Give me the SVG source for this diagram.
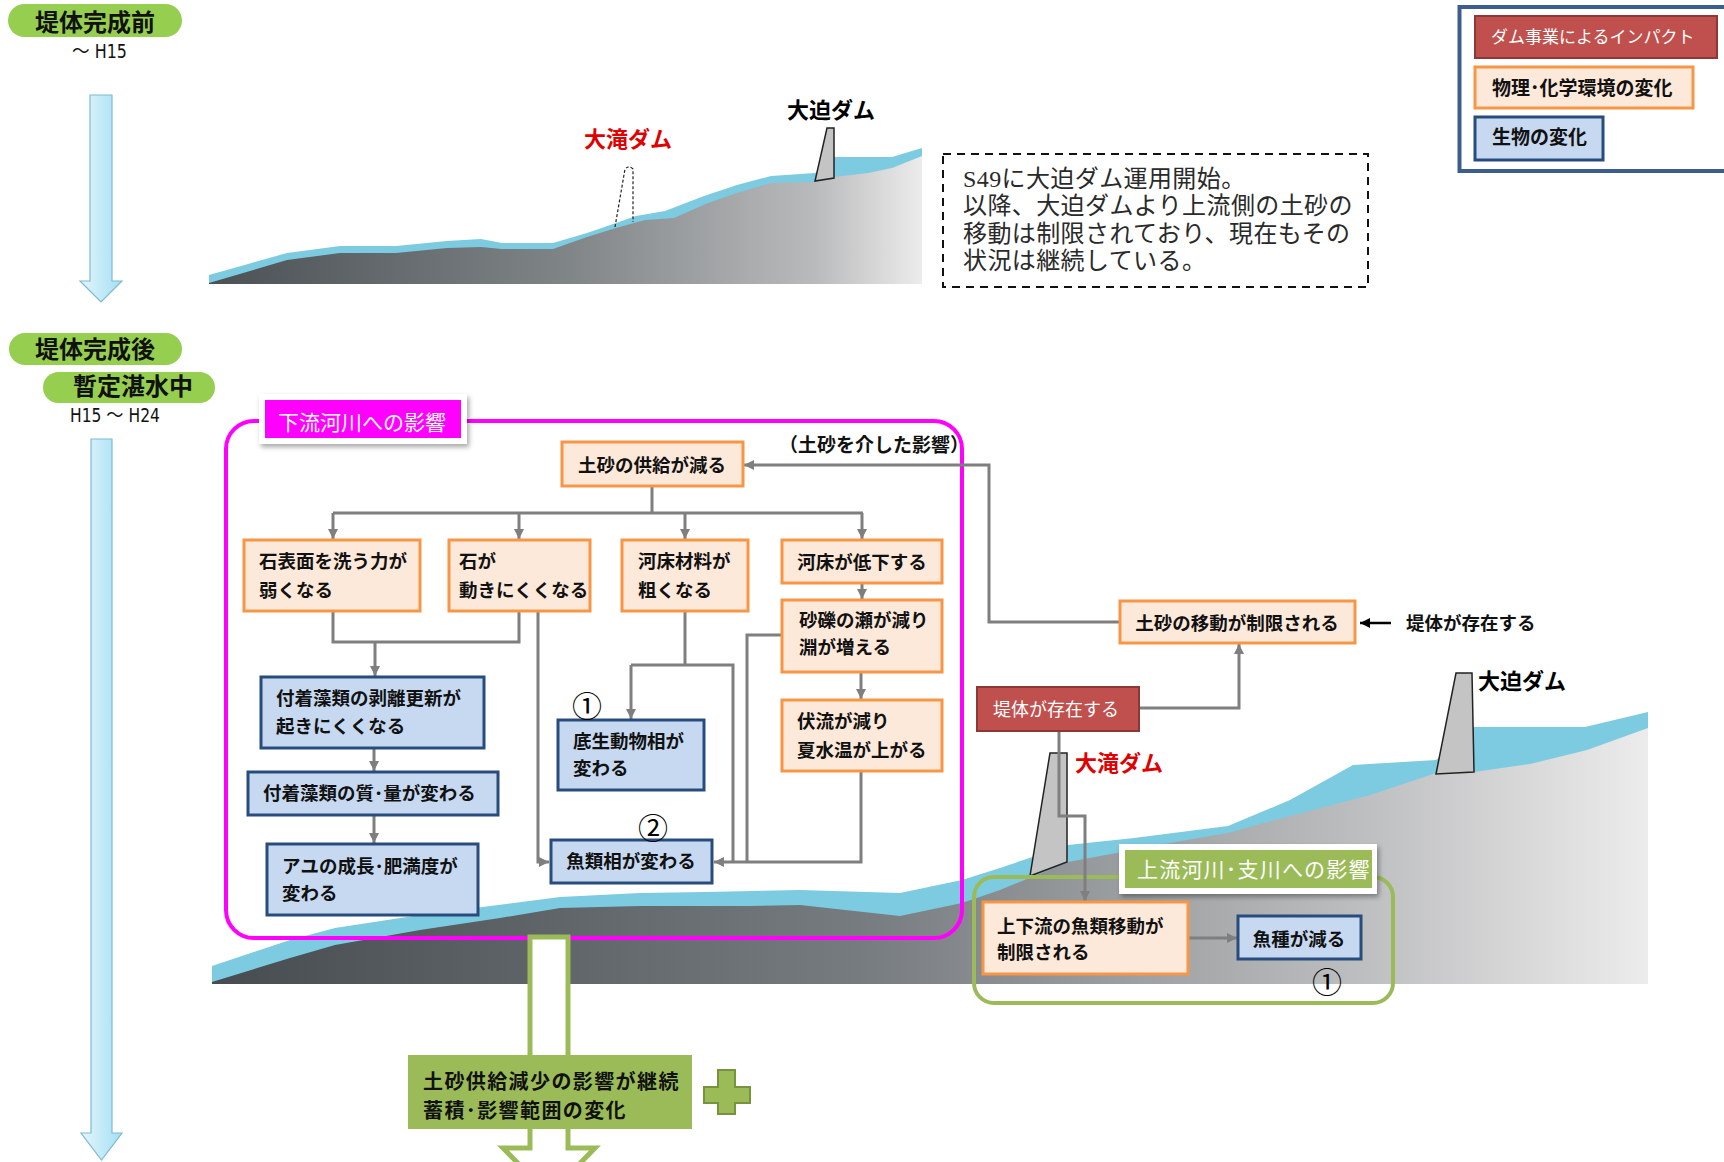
<svg xmlns="http://www.w3.org/2000/svg" width="1724" height="1162" viewBox="0 0 1724 1162">
  <defs>
    <linearGradient id="groundTop" x1="0" y1="0" x2="1" y2="0">
      <stop offset="0" stop-color="#4b5054"/>
      <stop offset="0.5" stop-color="#7f8487"/>
      <stop offset="0.85" stop-color="#b9babb"/>
      <stop offset="1" stop-color="#ececec"/>
    </linearGradient>
    <linearGradient id="groundBottom" x1="0" y1="0" x2="1" y2="0">
      <stop offset="0" stop-color="#474c50"/>
      <stop offset="0.45" stop-color="#767b7f"/>
      <stop offset="0.8" stop-color="#bdbebf"/>
      <stop offset="1" stop-color="#ececec"/>
    </linearGradient>
    <linearGradient id="timeArrow" x1="0" y1="0" x2="1" y2="0">
      <stop offset="0" stop-color="#e4f6fc"/>
      <stop offset="1" stop-color="#a3dff4"/>
    </linearGradient>
    <filter id="shadow" x="-10%" y="-20%" width="130%" height="160%">
      <feDropShadow dx="2" dy="3" stdDeviation="2.5" flood-color="#000" flood-opacity="0.35"/>
    </filter>
    <marker id="arrGray" viewBox="0 0 10 10" refX="10" refY="5" markerWidth="10" markerHeight="10" markerUnits="userSpaceOnUse" orient="auto">
      <path d="M0,0 L10,5 L0,10 Z" fill="#7f7f7f"/>
    </marker>
    <marker id="arrBlack" viewBox="0 0 10 10" refX="10" refY="5" markerWidth="12" markerHeight="10" markerUnits="userSpaceOnUse" orient="auto">
      <path d="M0,0 L10,5 L0,10 Z" fill="#000"/>
    </marker>
    <style>
      .jp { font-family: "Noto Sans CJK JP", "Noto Sans", sans-serif; }
      .b { font-weight: 700; }
      .nt { font-family: "Noto Sans CJK JP", "Noto Sans", sans-serif; font-weight: 700; font-size: 18.5px; fill: #111; }
      .orange { fill: #fde9d9; stroke: #f79646; stroke-width: 3; }
      .blue { fill: #c6d9f1; stroke: #284c7c; stroke-width: 3; }
      .red { fill: #c0504d; stroke: #8c3836; stroke-width: 2; }
      .conn { fill: none; stroke: #7f7f7f; stroke-width: 3; }
      .water { fill: #7ccbe0; }
      .dam { fill: #c4c4c4; stroke: #222; stroke-width: 1.5; }
      .pill { fill: #96cf4f; }
      .num { font-family: "Noto Sans CJK JP", "Noto Sans", sans-serif; font-size: 30px; fill: #000; }
      .damred { font-family: "Noto Sans CJK JP", sans-serif; font-weight: 700; font-size: 22px; fill: #e00000; }
      .damblk { font-family: "Noto Sans CJK JP", sans-serif; font-weight: 700; font-size: 22px; fill: #000; }
      .era { font-family: "Liberation Sans Narrow", "DejaVu Sans Condensed", "Liberation Sans", "Noto Sans CJK JP", sans-serif; font-size: 19px; fill: #111; }
    </style>
  </defs>

  <rect width="1724" height="1162" fill="#ffffff"/>

  <!-- time line: before completion -->
  <g id="era-before">
    <rect class="pill" x="8" y="4" width="174" height="33" rx="16.5"/>
    <text class="jp b" x="95" y="31" font-size="24" text-anchor="middle" fill="#111">堤体完成前</text>
    <text class="era" x="72" y="58" textLength="55" lengthAdjust="spacingAndGlyphs">～ H15</text>
    <path d="M90,95 H112 V281 H122 L101,302 L80,281 H90 Z" fill="url(#timeArrow)" stroke="#7fb9cf" stroke-width="1.2"/>
  </g>

  <!-- time line: after completion -->
  <g id="era-after">
    <rect class="pill" x="9" y="333" width="173" height="32" rx="16"/>
    <text class="jp b" x="95" y="358" font-size="24" text-anchor="middle" fill="#111">堤体完成後</text>
    <rect class="pill" x="43" y="372" width="172" height="31" rx="15.5"/>
    <text class="jp b" x="133" y="395" font-size="24" text-anchor="middle" fill="#111">暫定湛水中</text>
    <text class="era" x="70" y="422" textLength="90" lengthAdjust="spacingAndGlyphs">H15 ～ H24</text>
    <path d="M91,439 H112 V1133 H122 L101.5,1160 L81,1133 H91 Z" fill="url(#timeArrow)" stroke="#7fb9cf" stroke-width="1.2"/>
  </g>

  <!-- river profile before completion -->
  <g id="landscape-top">
    <polygon class="water" points="209,275 287,253 340,246 396,246 447,241 481,239 502,243 553,243 587,233 616,223 636,216 665,211 704,196 737,185 771,176 815,173 834,157 892,157 922,148 922,284 209,284"/>
    <polygon fill="url(#groundTop)" points="209,283 287,260 340,253 396,253 447,248 481,247 502,249 553,249 587,237 616,228 645,220 674,218 708,203 737,193 771,183 815,182 834,177 868,173 892,168 922,156 922,284 209,284"/>
    <polygon class="dam" points="827,128 834,128 834,178 815,181"/>
    <path d="M615,227 L625,169 Q629,165 633,169 L633,222" fill="none" stroke="#222" stroke-width="1.2" stroke-dasharray="3 2"/>
    <text class="damred" x="628" y="147" text-anchor="middle">大滝ダム</text>
    <text class="damblk" x="831" y="118" text-anchor="middle">大迫ダム</text>
  </g>

  <!-- note -->
  <g id="note">
    <rect x="943" y="154" width="425" height="133" fill="#fff" stroke="#111" stroke-width="2" stroke-dasharray="8 6"/>
    <g font-family="'Liberation Serif', 'Noto Sans CJK JP', serif" font-size="24" fill="#2a2a2a" letter-spacing="0.4">
      <text x="963" y="187">S49に大迫ダム運用開始。</text>
      <text x="963" y="214">以降、大迫ダムより上流側の土砂の</text>
      <text x="963" y="242">移動は制限されており、現在もその</text>
      <text x="963" y="269">状況は継続している。</text>
    </g>
  </g>

  <!-- legend -->
  <g id="legend">
    <rect x="1459.5" y="7" width="280" height="164" fill="#fff" stroke="#3b5e8c" stroke-width="4"/>
    <rect class="red" x="1475" y="16" width="242" height="42"/>
    <text class="jp" x="1491" y="43" font-size="17" fill="#fff">ダム事業によるインパクト</text>
    <rect class="orange" x="1475" y="67" width="218" height="41"/>
    <text class="jp b" x="1492" y="95" font-size="19" fill="#111">物理･化学環境の変化</text>
    <rect class="blue" x="1475" y="117" width="128" height="43"/>
    <text class="jp b" x="1492" y="144" font-size="19" fill="#111">生物の変化</text>
  </g>

  <!-- river profile after completion -->
  <g id="landscape-bottom">
    <polygon class="water" points="212,966 290,940 335,928 420,915 560,897 640,893 705,892 800,890 900,893 962,880 1000,868 1068,845 1134,838 1228,826 1290,800 1353,765 1436,760 1474,727 1585,727 1648,712 1648,984 212,984"/>
    <polygon fill="url(#groundBottom)" points="212,982 290,958 335,945 420,930 500,918 560,908 640,906 750,906 800,905 900,916 962,903 1000,890 1068,862 1181,841 1228,833 1275,820 1370,795 1436,773 1474,772 1530,764 1587,750 1648,728 1648,984 212,984"/>
    <polygon class="dam" points="1050,753 1067,753 1067,862 1030,876"/>
    <polygon class="dam" points="1456,673 1472,673 1474,772 1436,774"/>
    <text class="damred" x="1075" y="771">大滝ダム</text>
    <text class="damblk" x="1478" y="689">大迫ダム</text>
  </g>

  <!-- downstream impact frame -->
  <g id="frame-downstream">
    <rect x="226" y="421" width="736" height="517" rx="28" fill="none" stroke="#ff00ff" stroke-width="4"/>
    <rect x="259" y="394" width="208" height="50" fill="#fff" filter="url(#shadow)"/>
    <rect x="265" y="400" width="196" height="38" fill="#ff00ff"/>
    <text class="jp" x="278" y="430" font-size="21" fill="#fff">下流河川への影響</text>
    <text class="jp b" x="779" y="452" font-size="19" fill="#111">（土砂を介した影響）</text>
  </g>

  <!-- upstream impact frame -->
  <g id="frame-upstream">
    <rect x="974" y="877" width="419" height="126" rx="20" fill="none" stroke="#9bbb59" stroke-width="4"/>
    <rect x="1119" y="844" width="258" height="50" fill="#fff" filter="url(#shadow)"/>
    <rect x="1125" y="850" width="247" height="38" fill="#9bbb59"/>
    <text class="jp" x="1137" y="877" font-size="21" letter-spacing="1.2" fill="#fff">上流河川･支川への影響</text>
  </g>

  <!-- continuing effect arrow -->
  <g id="continuation">
    <path d="M530,937 V1148 H503 L549,1195 L595,1148 H568 V937 Z" fill="#fff" stroke="#9bbb59" stroke-width="5"/>
    <rect x="408" y="1055" width="284" height="74" fill="#9bbb59"/>
    <text class="jp b" x="423" y="1089" font-size="20" letter-spacing="1.4" fill="#111">土砂供給減少の影響が継続</text>
    <text class="jp b" x="423" y="1118" font-size="20" letter-spacing="1.4" fill="#111">蓄積･影響範囲の変化</text>
    <path d="M718,1070 H735 V1087 H750 V1103 H735 V1114 H718 V1103 H704 V1087 H718 Z" fill="#9bbb59" stroke="#77933c" stroke-width="2"/>
  </g>

  <!-- connectors -->
  <g id="connectors">
    <path class="conn" d="M652,486 V513"/>
    <path class="conn" d="M333,513 H863"/>
    <path class="conn" d="M333,513 V539" marker-end="url(#arrGray)"/>
    <path class="conn" d="M519,513 V539" marker-end="url(#arrGray)"/>
    <path class="conn" d="M685,513 V539" marker-end="url(#arrGray)"/>
    <path class="conn" d="M862,513 V539" marker-end="url(#arrGray)"/>
    <path class="conn" d="M862,583 V599" marker-end="url(#arrGray)"/>
    <path class="conn" d="M861,672 V699" marker-end="url(#arrGray)"/>
    <path class="conn" d="M333,611 V642 H519 V611"/>
    <path class="conn" d="M375,642 V676" marker-end="url(#arrGray)"/>
    <path class="conn" d="M538,611 V862 H549" marker-end="url(#arrGray)"/>
    <path class="conn" d="M685,611 V665"/>
    <path class="conn" d="M631,665 H733 V862"/>
    <path class="conn" d="M631,665 V719" marker-end="url(#arrGray)"/>
    <path class="conn" d="M782,635 H747 V862"/>
    <path class="conn" d="M861,771 V862 H714" marker-end="url(#arrGray)"/>
    <path class="conn" d="M374,748 V771" marker-end="url(#arrGray)"/>
    <path class="conn" d="M374,815 V843" marker-end="url(#arrGray)"/>
    <path class="conn" d="M1120,622 H989 V465 H744" marker-end="url(#arrGray)"/>
    <path class="conn" d="M1139,708 H1239 V644" marker-end="url(#arrGray)"/>
    <path class="conn" d="M1059,731 V816 H1085 V901" marker-end="url(#arrGray)"/>
    <path class="conn" d="M1189,938 H1237" marker-end="url(#arrGray)"/>
    <path d="M1391,623 H1360" fill="none" stroke="#000" stroke-width="2.5" marker-end="url(#arrBlack)"/>
  </g>

  <!-- nodes -->
  <g id="n-supply">
    <rect class="orange" x="562" y="442" width="181" height="44"/>
    <text class="nt" x="652" y="472" text-anchor="middle">土砂の供給が減る</text>
  </g>
  <g id="n-wash">
    <rect class="orange" x="244" y="540" width="176" height="71"/>
    <text class="nt" x="259" y="568">石表面を洗う力が</text>
    <text class="nt" x="259" y="597">弱くなる</text>
  </g>
  <g id="n-stone">
    <rect class="orange" x="449" y="540" width="141" height="71"/>
    <text class="nt" x="459" y="568">石が</text>
    <text class="nt" x="459" y="597" font-size="17.5px">動きにくくなる</text>
  </g>
  <g id="n-bedmaterial">
    <rect class="orange" x="622" y="540" width="126" height="71"/>
    <text class="nt" x="638" y="568">河床材料が</text>
    <text class="nt" x="638" y="597">粗くなる</text>
  </g>
  <g id="n-bedfall">
    <rect class="orange" x="782" y="540" width="160" height="43"/>
    <text class="nt" x="862" y="569" text-anchor="middle">河床が低下する</text>
  </g>
  <g id="n-riffle">
    <rect class="orange" x="782" y="600" width="160" height="72"/>
    <text class="nt" x="799" y="627">砂礫の瀬が減り</text>
    <text class="nt" x="799" y="654">淵が増える</text>
  </g>
  <g id="n-subsurface">
    <rect class="orange" x="782" y="700" width="160" height="71"/>
    <text class="nt" x="797" y="728">伏流が減り</text>
    <text class="nt" x="797" y="757">夏水温が上がる</text>
  </g>
  <g id="n-algae-renew">
    <rect class="blue" x="261" y="677" width="223" height="71"/>
    <text class="nt" x="276" y="705">付着藻類の剥離更新が</text>
    <text class="nt" x="276" y="733">起きにくくなる</text>
  </g>
  <g id="n-algae-quality">
    <rect class="blue" x="248" y="772" width="250" height="43"/>
    <text class="nt" x="263" y="800">付着藻類の質･量が変わる</text>
  </g>
  <g id="n-ayu">
    <rect class="blue" x="267" y="844" width="211" height="71"/>
    <text class="nt" x="282" y="873">アユの成長･肥満度が</text>
    <text class="nt" x="282" y="900">変わる</text>
  </g>
  <g id="n-benthos">
    <rect class="blue" x="558" y="720" width="146" height="70"/>
    <text class="nt" x="573" y="748">底生動物相が</text>
    <text class="nt" x="573" y="775">変わる</text>
    <text class="num" x="587" y="717" text-anchor="middle">①</text>
  </g>
  <g id="n-fish">
    <rect class="blue" x="551" y="840" width="161" height="43"/>
    <text class="nt" x="631" y="868" text-anchor="middle">魚類相が変わる</text>
    <text class="num" x="653" y="839" text-anchor="middle">②</text>
  </g>
  <g id="n-sediment-move">
    <rect class="orange" x="1120" y="601" width="235" height="42"/>
    <text class="nt" x="1237" y="630" text-anchor="middle">土砂の移動が制限される</text>
    <text class="nt" x="1406" y="630" font-size="18px">堤体が存在する</text>
  </g>
  <g id="n-dam-body">
    <rect class="red" x="977" y="687" width="162" height="44"/>
    <text class="jp" x="993" y="716" font-size="18" fill="#fff">堤体が存在する</text>
  </g>
  <g id="n-fish-migration">
    <rect class="orange" x="983" y="902" width="205" height="72"/>
    <text class="nt" x="997" y="933">上下流の魚類移動が</text>
    <text class="nt" x="997" y="959">制限される</text>
  </g>
  <g id="n-species">
    <rect class="blue" x="1238" y="916" width="123" height="43"/>
    <text class="nt" x="1299" y="946" text-anchor="middle">魚種が減る</text>
    <text class="num" x="1327" y="993" text-anchor="middle">①</text>
  </g>
</svg>
